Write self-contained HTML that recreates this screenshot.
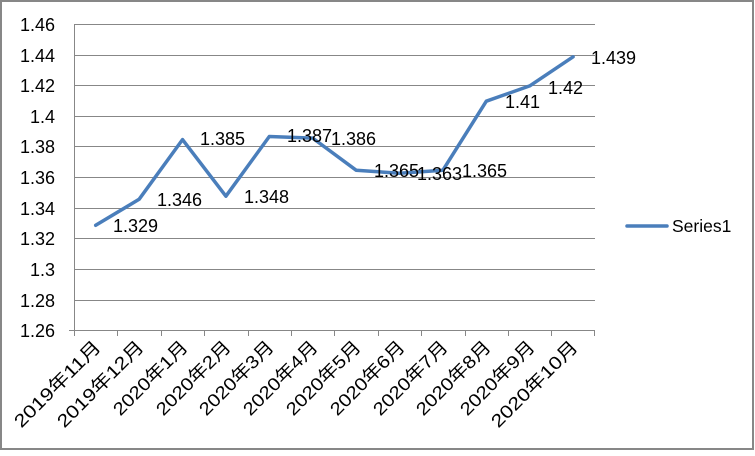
<!DOCTYPE html>
<html><head><meta charset="utf-8"><style>body{margin:0;background:#fff}</style></head><body>
<svg width="755" height="451" xmlns="http://www.w3.org/2000/svg" font-family="'Liberation Sans','Noto Sans CJK SC',sans-serif" font-size="18">
<rect x="1" y="1" width="752" height="448" fill="#fff" stroke="#878787" stroke-width="2"/>
<g stroke="#878787" stroke-width="1">
<line x1="74" y1="24.5" x2="595" y2="24.5"/><line x1="74" y1="55.5" x2="595" y2="55.5"/><line x1="74" y1="85.5" x2="595" y2="85.5"/><line x1="74" y1="116.5" x2="595" y2="116.5"/><line x1="74" y1="146.5" x2="595" y2="146.5"/><line x1="74" y1="177.5" x2="595" y2="177.5"/><line x1="74" y1="208.5" x2="595" y2="208.5"/><line x1="74" y1="238.5" x2="595" y2="238.5"/><line x1="74" y1="269.5" x2="595" y2="269.5"/><line x1="74" y1="300.5" x2="595" y2="300.5"/><line x1="69" y1="330.5" x2="595" y2="330.5"/>
<line x1="74.5" y1="24" x2="74.5" y2="336"/>
<line x1="117.5" y1="330" x2="117.5" y2="336"/><line x1="161.5" y1="330" x2="161.5" y2="336"/><line x1="204.5" y1="330" x2="204.5" y2="336"/><line x1="248.5" y1="330" x2="248.5" y2="336"/><line x1="291.5" y1="330" x2="291.5" y2="336"/><line x1="334.5" y1="330" x2="334.5" y2="336"/><line x1="378.5" y1="330" x2="378.5" y2="336"/><line x1="421.5" y1="330" x2="421.5" y2="336"/><line x1="465.5" y1="330" x2="465.5" y2="336"/><line x1="508.5" y1="330" x2="508.5" y2="336"/><line x1="551.5" y1="330" x2="551.5" y2="336"/><line x1="594.5" y1="330" x2="594.5" y2="336"/>
</g>
<g text-anchor="end" fill="#000">
<text x="55" y="31">1.46</text><text x="55" y="62">1.44</text><text x="55" y="92">1.42</text><text x="55" y="123">1.4</text><text x="55" y="153">1.38</text><text x="55" y="184">1.36</text><text x="55" y="215">1.34</text><text x="55" y="245">1.32</text><text x="55" y="276">1.3</text><text x="55" y="307">1.28</text><text x="55" y="337">1.26</text>
</g>
<polyline fill="none" stroke="#4a7ebb" stroke-width="3.5" stroke-linejoin="round" stroke-linecap="round" points="95.7,225.3 139.1,199.3 182.5,139.6 225.9,196.2 269.3,136.5 312.7,138.1 356.1,170.2 399.5,173.3 442.9,170.2 486.3,101.2 529.7,85.9 573.1,56.8"/>
<g fill="#000">
<text x="113" y="232">1.329</text><text x="157" y="206">1.346</text><text x="200" y="145">1.385</text><text x="244" y="203">1.348</text><text x="287" y="142">1.387</text><text x="331" y="145">1.386</text><text x="374" y="177">1.365</text><text x="417" y="180">1.363</text><text x="462" y="177">1.365</text><text x="505" y="108">1.41</text><text x="548" y="94">1.42</text><text x="591" y="64">1.439</text>
</g>
<g text-anchor="end" fill="#000">
<text transform="translate(102,348) rotate(-45)" textLength="114" lengthAdjust="spacingAndGlyphs">2019年11月</text>
<text transform="translate(145,348) rotate(-45)" textLength="114" lengthAdjust="spacingAndGlyphs">2019年12月</text>
<text transform="translate(189,348) rotate(-45)" textLength="97" lengthAdjust="spacingAndGlyphs">2020年1月</text>
<text transform="translate(232,348) rotate(-45)" textLength="97" lengthAdjust="spacingAndGlyphs">2020年2月</text>
<text transform="translate(275,348) rotate(-45)" textLength="97" lengthAdjust="spacingAndGlyphs">2020年3月</text>
<text transform="translate(319,348) rotate(-45)" textLength="97" lengthAdjust="spacingAndGlyphs">2020年4月</text>
<text transform="translate(362,348) rotate(-45)" textLength="97" lengthAdjust="spacingAndGlyphs">2020年5月</text>
<text transform="translate(406,348) rotate(-45)" textLength="97" lengthAdjust="spacingAndGlyphs">2020年6月</text>
<text transform="translate(449,348) rotate(-45)" textLength="97" lengthAdjust="spacingAndGlyphs">2020年7月</text>
<text transform="translate(492,348) rotate(-45)" textLength="97" lengthAdjust="spacingAndGlyphs">2020年8月</text>
<text transform="translate(536,348) rotate(-45)" textLength="97" lengthAdjust="spacingAndGlyphs">2020年9月</text>
<text transform="translate(579,348) rotate(-45)" textLength="114" lengthAdjust="spacingAndGlyphs">2020年10月</text>
</g>
<line x1="627" y1="226" x2="667" y2="226" stroke="#4a7ebb" stroke-width="3.5" stroke-linecap="round"/>
<text x="672" y="232" font-size="17.5">Series1</text>
</svg>
</body></html>
